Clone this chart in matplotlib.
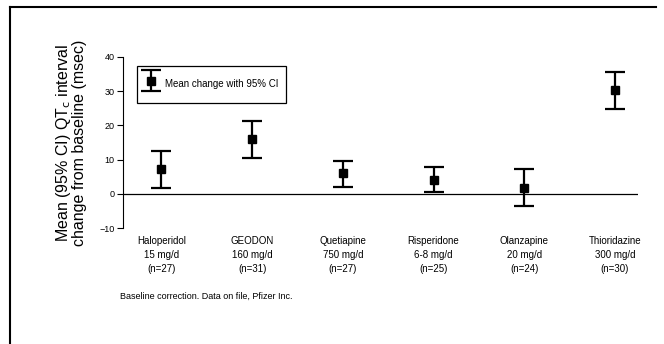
import matplotlib
matplotlib.use("Agg")
import matplotlib.pyplot as plt
from matplotlib.lines import Line2D
from matplotlib.legend_handler import HandlerErrorbar
from matplotlib.container import ErrorbarContainer
import numpy as np

plt.rcParams['font.family'] = ['Liberation Sans', 'DejaVu Sans']

# drugs and their mean QTc change with 95% CI (msec)
drugs = ["Haloperidol\n15 mg/d\n(n=27)", "GEODON\n160 mg/d\n(n=31)",
         "Quetiapine\n750 mg/d\n(n=27)", "Risperidone\n6-8 mg/d\n(n=25)",
         "Olanzapine\n20 mg/d\n(n=24)", "Thioridazine\n300 mg/d\n(n=30)"]
means = [7.3, 16.0, 6.0, 4.1, 1.8, 30.3]
ci_low = [1.8, 10.6, 1.9, 0.5, -3.6, 24.9]
ci_high = [12.6, 21.4, 9.6, 7.7, 7.2, 35.7]
yticks = [-10, 0, 10, 20, 30, 40]

fig = plt.figure(figsize=(6.64, 3.44), dpi=100)
ax = fig.add_axes([123 / 664, 1 - 228 / 344, (638 - 123) / 664, (228 - 57) / 344])

x = np.arange(len(drugs))
means = np.array(means)
err = np.array([means - np.array(ci_low), np.array(ci_high) - means])

ax.axhline(0, color="black", lw=0.9, zorder=1)
h = ax.errorbar(x, means, yerr=err, fmt="s", color="black", ms=6,
                elinewidth=1.6, capsize=7.5, capthick=1.6, zorder=3)

ax.set_xlim(-0.423, 5.253)
ax.set_ylim(-10, 40)
ax.set_yticks(yticks)
ax.tick_params(axis="y", labelsize=6.5, length=4, width=0.8, pad=2)
ax.set_xticks(x)
ax.set_xticklabels(drugs, fontsize=7, linespacing=1.45)
ax.tick_params(axis="x", length=0, pad=6)
for s in ["top", "right", "bottom"]:
    ax.spines[s].set_visible(False)
ax.spines["left"].set_linewidth(0.8)

ax.set_ylabel("Mean (95% CI) QT$_\\mathrm{c}$ interval\nchange from baseline (msec)",
              fontsize=11.5, labelpad=9, linespacing=0.95)

leg = ax.legend([h], ["Mean change with 95% CI"], loc="upper left",
                bbox_to_anchor=(0.027, 0.947), borderaxespad=0, fontsize=7,
                fancybox=False, framealpha=1, edgecolor="black", borderpad=0.8,
                handlelength=1.4, handleheight=3.0, handletextpad=0.7,
                handler_map={ErrorbarContainer: HandlerErrorbar(yerr_size=1.1)})
leg.get_frame().set_linewidth(0.9)

fig.text(120 / 664, 1 - 296 / 344, "Baseline correction. Data on file, Pfizer Inc.",
         fontsize=6.5, va="center", ha="left")

# page frame (top and left edges)
fig.add_artist(Line2D([10 / 664, 656 / 664], [1 - 7 / 344, 1 - 7 / 344],
                      color="black", lw=1.5, transform=fig.transFigure))
fig.add_artist(Line2D([10 / 664, 10 / 664], [1 - 7 / 344, 0],
                      color="black", lw=1.5, transform=fig.transFigure))

fig.savefig("out.png", dpi=100)
